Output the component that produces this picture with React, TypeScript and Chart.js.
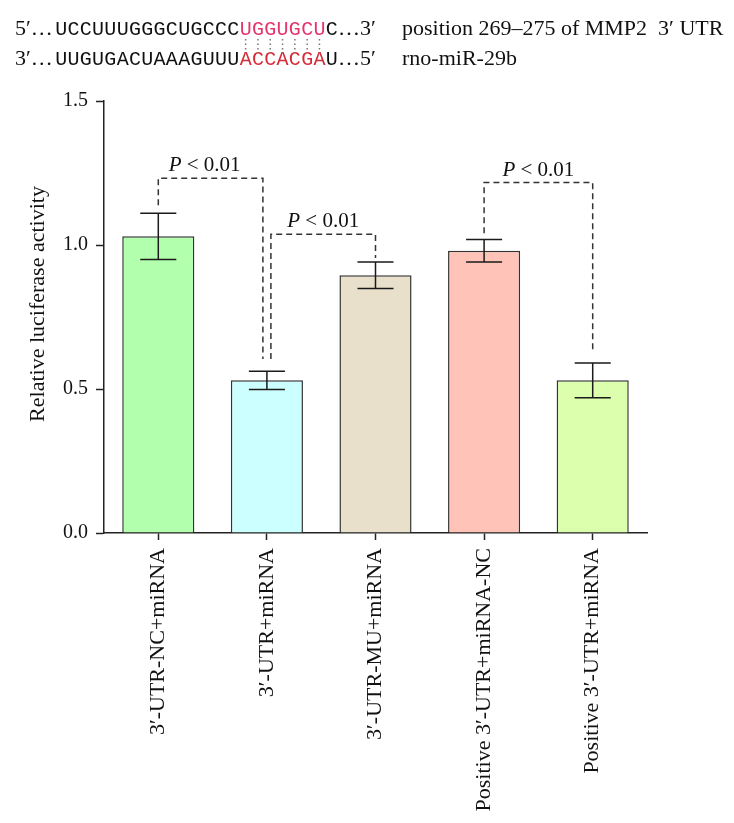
import React, { useEffect, useRef } from 'react';
import { Chart, registerables } from 'chart.js';

Chart.register(...registerables);

// ---------- data ----------
const categories = [
  '3′-UTR-NC+miRNA',
  '3′-UTR+miRNA',
  '3′-UTR-MU+miRNA',
  'Positive 3′-UTR+miRNA-NC',
  'Positive 3′-UTR+miRNA',
];
const meanActivity = [1.03, 0.53, 0.895, 0.98, 0.53];
const errorActivity = [0.08, 0.032, 0.046, 0.039, 0.06];
const barColors = ['#b2ffad', '#ccffff', '#e9e0cc', '#ffc4b7', '#dcffae'];
const yTicks = [0, 0.5, 1.0, 1.5];

const bracketFrom = [0, 1, 3];
const bracketTo = [1, 2, 4];
const bracketTop = [1.232, 1.037, 1.217];
const bracketFromEnd = [1.138, 0.604, 1.041];
const bracketToEnd = [0.604, 0.955, 0.627];
const bracketLabel = ['P', ' < 0.01'];

const seqTop = 'UCCUUUGGGCUGCCCUGGUGCUC';
const seqBottom = 'UUGUGACUAAAGUUUACCACGAU';
const seedStart = 15;
const seedLength = 7;
const topPrefix = '5′…';
const topSuffix = '…3′';
const bottomPrefix = '3′…';
const bottomSuffix = '…5′';
const topNote = 'position 269–275 of MMP2  3′ UTR';
const bottomNote = 'rno-miR-29b';
const yTitle = 'Relative luciferase activity';

// ---------- styles ----------
const SERIF = '"Liberation Serif", "Times New Roman", serif';
const MONO = '"Liberation Mono", "Courier New", monospace';
const W = 734;
const H = 823;

const overlayPlugin = {
  id: 'overlay',
  afterDatasetsDraw(chart: any) {
    const ctx: CanvasRenderingContext2D = chart.ctx;
    const ys = chart.scales.y;
    const xs = chart.scales.x;
    const meta = chart.getDatasetMeta(0);
    ctx.save();
    // error bars
    ctx.strokeStyle = '#1a1a1a';
    ctx.lineWidth = 1.5;
    meta.data.forEach((bar: any, i: number) => {
      const cx = bar.x;
      const t = ys.getPixelForValue(meanActivity[i] + errorActivity[i]);
      const b = ys.getPixelForValue(meanActivity[i] - errorActivity[i]);
      const half = bar.width / 4;
      ctx.beginPath();
      ctx.moveTo(cx, t);
      ctx.lineTo(cx, b);
      ctx.moveTo(cx - half, t);
      ctx.lineTo(cx + half, t);
      ctx.moveTo(cx - half, b);
      ctx.lineTo(cx + half, b);
      ctx.stroke();
    });
    // significance brackets
    ctx.strokeStyle = '#333';
    ctx.lineWidth = 1.5;
    ctx.setLineDash([6, 4]);
    bracketFrom.forEach((from, k) => {
      const to = bracketTo[k];
      const shared = 4;
      const fromOff = bracketTo.some((t, j) => j !== k && t === from) ? shared : 0;
      const toOff = bracketFrom.some((f, j) => j !== k && f === to) ? -shared : 0;
      const x1 = xs.getPixelForValue(from) + fromOff;
      const x2 = xs.getPixelForValue(to) + toOff;
      const yt = ys.getPixelForValue(bracketTop[k]);
      ctx.beginPath();
      ctx.moveTo(x1, ys.getPixelForValue(bracketFromEnd[k]));
      ctx.lineTo(x1, yt);
      ctx.lineTo(x2, yt);
      ctx.lineTo(x2, ys.getPixelForValue(bracketToEnd[k]));
      ctx.stroke();
      // label
      ctx.setLineDash([]);
      ctx.fillStyle = '#111';
      ctx.textBaseline = 'alphabetic';
      ctx.textAlign = 'left';
      ctx.font = `italic 21px ${SERIF}`;
      const w1 = ctx.measureText(bracketLabel[0]).width;
      ctx.font = `21px ${SERIF}`;
      const w2 = ctx.measureText(bracketLabel[1]).width;
      const cx = (x1 + x2) / 2 - (fromOff === 0 && toOff !== 0 ? 6 : 0);
      const sx = cx - (w1 + w2) / 2;
      ctx.font = `italic 21px ${SERIF}`;
      ctx.fillText(bracketLabel[0], sx, yt - 7);
      ctx.font = `21px ${SERIF}`;
      ctx.fillText(bracketLabel[1], sx + w1, yt - 7);
      ctx.setLineDash([6, 4]);
    });
    ctx.restore();
  },
  afterDraw(chart: any) {
    const ctx: CanvasRenderingContext2D = chart.ctx;
    ctx.save();
    // y title
    ctx.fillStyle = '#111';
    ctx.font = `22px ${SERIF}`;
    ctx.translate(44, 304);
    ctx.rotate(-Math.PI / 2);
    ctx.textAlign = 'center';
    ctx.textBaseline = 'alphabetic';
    ctx.fillText(yTitle, 0, 0);
    ctx.restore();

    // header: sequence alignment
    ctx.save();
    ctx.textBaseline = 'alphabetic';
    ctx.textAlign = 'left';
    const pitch = 12.3;
    const seqX = 55;
    const lines = [
      { pre: topPrefix, seq: seqTop, suf: topSuffix, note: topNote, base: 35, red: '#e5336b' },
      { pre: bottomPrefix, seq: seqBottom, suf: bottomSuffix, note: bottomNote, base: 65, red: '#d62a36' },
    ];
    lines.forEach((ln) => {
      ctx.fillStyle = '#111';
      ctx.font = `22px ${SERIF}`;
      ctx.fillText(ln.pre, 15, ln.base);
      ctx.font = `20px ${MONO}`;
      for (let i = 0; i < ln.seq.length; i++) {
        const isSeed = i >= seedStart && i < seedStart + seedLength;
        ctx.fillStyle = isSeed ? ln.red : '#111';
        const cw = ctx.measureText(ln.seq[i]).width;
        ctx.fillText(ln.seq[i], seqX + i * pitch + (pitch - cw) / 2, ln.base);
      }
      ctx.fillStyle = '#111';
      ctx.font = `22px ${SERIF}`;
      ctx.fillText(ln.suf, seqX + ln.seq.length * pitch, ln.base);
      ctx.fillText(ln.note, 402, ln.base);
    });
    // pairing dots
    ctx.strokeStyle = '#777';
    ctx.lineWidth = 1.5;
    ctx.setLineDash([1.5, 3]);
    for (let i = 0; i < seedLength; i++) {
      const x = seqX + (seedStart + i) * pitch + pitch / 2;
      ctx.beginPath();
      ctx.moveTo(x, 39);
      ctx.lineTo(x, 53);
      ctx.stroke();
    }
    ctx.restore();
  },
};

export default function App() {
  const ref = useRef<HTMLCanvasElement>(null);
  useEffect(() => {
    document.body.style.margin = '0';
    const canvas = ref.current!;
    const chart = new Chart(canvas, {
      type: 'bar',
      data: {
        labels: categories,
        datasets: [
          {
            data: meanActivity,
            backgroundColor: barColors,
            borderColor: '#333',
            borderWidth: 1.5,
            barPercentage: 0.664,
            categoryPercentage: 1,
          },
        ],
      },
      options: {
        animation: false,
        responsive: false,
        devicePixelRatio: 1,
        layout: { padding: { top: 101, right: 87, left: 0, bottom: 0 } },
        plugins: { legend: { display: false }, tooltip: { enabled: false } },
        scales: {
          x: {
            offset: true,
            grid: {
              offset: false,
              drawOnChartArea: false,
              drawTicks: true,
              tickLength: 7,
              tickColor: '#222',
              tickWidth: 1.5,
            },
            border: { color: '#222', width: 1.5 },
            ticks: {
              color: '#111',
              font: { family: SERIF, size: 22 },
              maxRotation: 90,
              minRotation: 90,
              padding: 8,
              autoSkip: false,
            },
            afterFit: (s: any) => {
              s.height = H - 533;
            },
          },
          y: {
            min: 0,
            max: 1.5,
            grid: {
              drawOnChartArea: false,
              drawTicks: true,
              tickLength: 8,
              tickColor: '#222',
              tickWidth: 1.5,
            },
            border: { color: '#222', width: 1.5 },
            ticks: {
              color: '#111',
              font: { family: SERIF, size: 20 },
              padding: 8,
              callback: (v: any) => Number(v).toFixed(1),
            },
            afterBuildTicks: (s: any) => {
              s.ticks = yTicks.map((v) => ({ value: v }));
            },
            afterFit: (s: any) => {
              s.width = 104;
            },
          },
        },
      },
      plugins: [overlayPlugin],
    });
    return () => chart.destroy();
  }, []);
  return (
    <div style={{ width: W, height: H, position: 'relative' }}>
      <canvas ref={ref} width={W} height={H} style={{ display: 'block', width: W, height: H }} />
    </div>
  );
}
